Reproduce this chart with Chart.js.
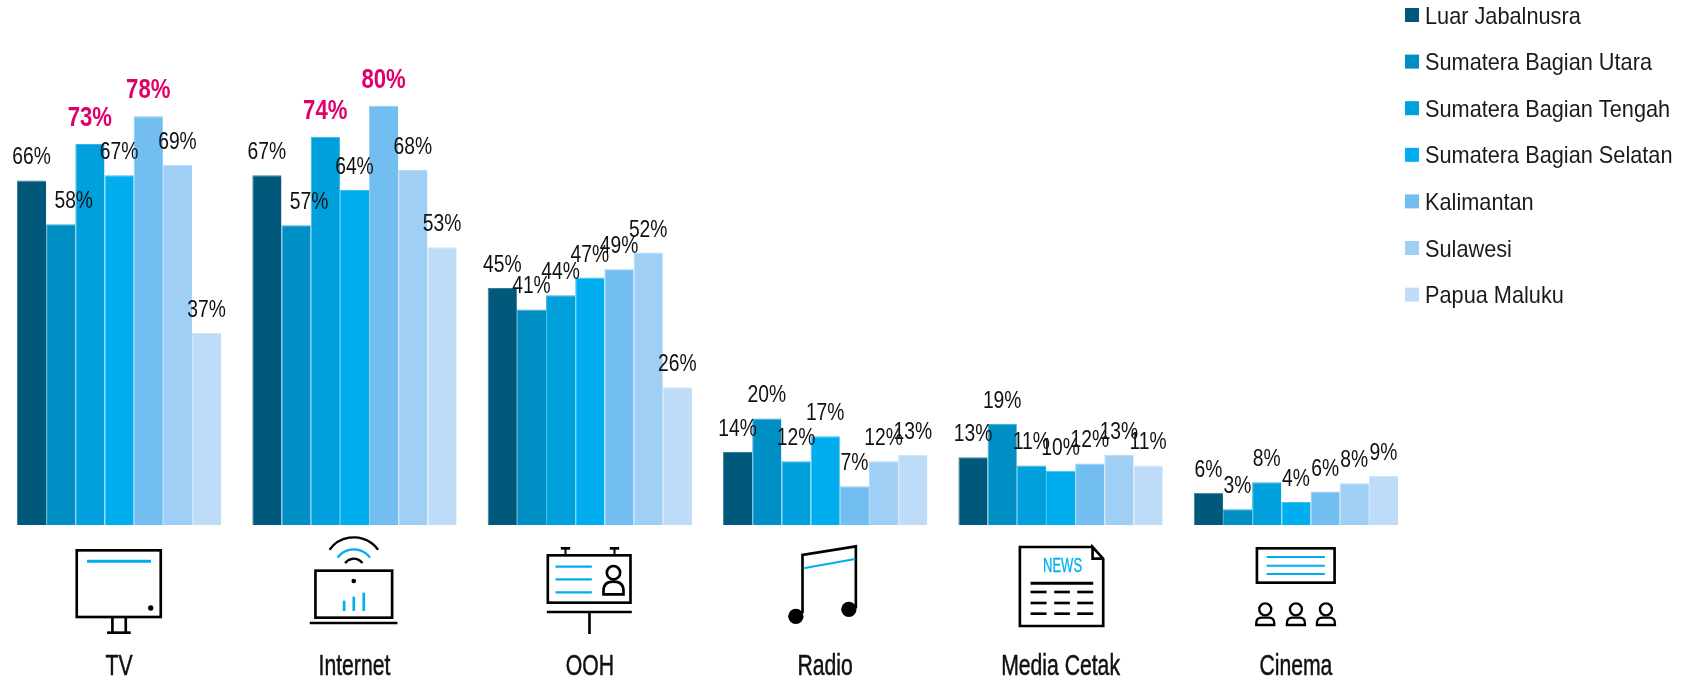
<!DOCTYPE html>
<html>
<head>
<meta charset="utf-8">
<title>Media reach</title>
<script src="https://cdn.jsdelivr.net/npm/chart.js@4"></script>
<style>
  html, body { margin: 0; padding: 0; background: #fff; }
  canvas { display: block; }
</style>
</head>
<body>
<canvas id="media" width="1690" height="681"></canvas>
<script>
var categories = ['TV', 'Internet', 'OOH', 'Radio', 'Media Cetak', 'Cinema'];

var luarJabalnusra = [66, 67, 45.4, 14, 13, 6.2];
var sumateraUtara = [57.6, 57.4, 41.3, 20.4, 19.4, 3];
var sumateraTengah = [73, 74.4, 44, 12.2, 11.4, 8.2];
var sumateraSelatan = [67, 64.2, 47.4, 17, 10.4, 4.4];
var kalimantan = [78.3, 80.3, 49, 7.4, 11.8, 6.4];
var sulawesi = [69, 68, 52.2, 12.2, 13.4, 8];
var papuaMaluku = [36.8, 53.2, 26.4, 13.4, 11.4, 9.4];

var regionNames = ['Luar Jabalnusra', 'Sumatera Bagian Utara', 'Sumatera Bagian Tengah',
  'Sumatera Bagian Selatan', 'Kalimantan', 'Sulawesi', 'Papua Maluku'];
var regionValues = [luarJabalnusra, sumateraUtara, sumateraTengah, sumateraSelatan,
  kalimantan, sulawesi, papuaMaluku];
var regionColors = ['#00587a', '#008fc5', '#00a0dc', '#00aeef', '#73bef0', '#a0cff5', '#bedcf7'];
var regionEdges = ['#3a7c96', '#3aa6d0', '#3ab4e3', '#3ac0f2', '#8fcbf3', '#b5d9f7', '#cde4f9'];

var FONT = '"Liberation Sans", Arial, sans-serif';
var BLUE = '#00aeef';

// the pink labels: series 2 and 4 in TV and Internet
function isHighlight(series, cat) {
  return cat < 2 && (series == 2 || series == 4);
}

// labels pushed sideways in the original so they clear the taller neighbour
function labelShift(series, cat) {
  return (series == 1 && cat < 2) ? 13 : 0;
}

// no condensed face is installed, so squeeze the text sideways
function squeezed(c, text, x, y, sx, outline) {
  c.save();
  c.translate(x, y);
  c.scale(sx, 1);
  if (outline) {
    c.lineWidth = outline;
    c.strokeStyle = c.fillStyle;
    c.strokeText(text, 0, 0);
  }
  c.fillText(text, 0, 0);
  c.restore();
}

var barLabels = {
  id: 'barLabels',
  afterDatasetsDraw: function(chart) {
    var c = chart.ctx;
    c.save();
    c.textAlign = 'center';
    c.textBaseline = 'middle';
    chart.data.datasets.forEach(function(ds, i) {
      chart.getDatasetMeta(i).data.forEach(function(bar, j) {
        var hot = isHighlight(i, j);
        c.font = (hot ? 'bold 27px ' : '23.5px ') + FONT;
        c.fillStyle = hot ? '#e0006c' : '#111';
        squeezed(c, Math.round(ds.data[j]) + '%', bar.x + labelShift(i, j), bar.y - (hot ? 25.5 : 22.5), 0.82);
      });
    });
    c.restore();
  }
};

var categoryLabels = {
  id: 'categoryLabels',
  afterDraw: function(chart) {
    var c = chart.ctx;
    var x = chart.scales.x;
    c.save();
    c.font = '29px ' + FONT;
    c.fillStyle = '#111';
    c.textAlign = 'center';
    c.textBaseline = 'middle';
    chart.data.labels.forEach(function(label, i) {
      squeezed(c, label, x.getPixelForTick(i), 667, 0.73, 0.5);
    });
    c.restore();
  }
};

var sideLegend = {
  id: 'sideLegend',
  afterDraw: function(chart) {
    var c = chart.ctx;
    c.save();
    c.font = '24px ' + FONT;
    c.textBaseline = 'middle';
    chart.data.datasets.forEach(function(ds, i) {
      var y = 15 + i * 46.6;
      c.fillStyle = ds.backgroundColor;
      c.fillRect(1405, y - 7, 14, 14);
      c.fillStyle = '#1a1a1a';
      squeezed(c, ds.label, 1425, y + 2, 0.905);
    });
    c.restore();
  }
};

function line(c, x1, y1, x2, y2, w, color) {
  c.strokeStyle = color || '#000';
  c.lineWidth = w;
  c.beginPath();
  c.moveTo(x1, y1);
  c.lineTo(x2, y2);
  c.stroke();
}

function box(c, x, y, w, h, lw) {
  c.strokeStyle = '#000';
  c.lineWidth = lw;
  c.strokeRect(x, y, w, h);
}

function dot(c, x, y, r) {
  c.fillStyle = '#000';
  c.beginPath();
  c.arc(x, y, r, 0, Math.PI * 2);
  c.fill();
}

function person(c, x, y, head, w, h, lw) {
  c.strokeStyle = '#000';
  c.lineWidth = lw;
  c.beginPath();
  c.arc(x, y, head, 0, Math.PI * 2);
  c.stroke();
  var top = y + head + 7, r = h * 0.75;
  c.beginPath();
  c.moveTo(x - w / 2, top + h);
  c.lineTo(x - w / 2, top + r);
  c.quadraticCurveTo(x - w / 2, top, x - w / 2 + r, top);
  c.lineTo(x + w / 2 - r, top);
  c.quadraticCurveTo(x + w / 2, top, x + w / 2, top + r);
  c.lineTo(x + w / 2, top + h);
  c.closePath();
  c.stroke();
}

// icons are drawn in a 600x450 box, 3 units to a pixel
var icons = [
  function tv(c) {
    box(c, 173, 61, 252, 200, 8);
    line(c, 204, 94, 396, 94, 9, BLUE);
    dot(c, 395, 234, 8);
    line(c, 280, 264, 280, 308, 8);
    line(c, 320, 264, 320, 308, 8);
    line(c, 264, 308, 335, 308, 8);
  },
  function internet(c) {
    c.strokeStyle = '#000';
    c.lineWidth = 7;
    c.beginPath(); c.arc(298, 112, 90, Math.PI * 1.2, Math.PI * 1.8); c.stroke();
    c.beginPath(); c.arc(298, 118, 32, Math.PI * 1.2, Math.PI * 1.8); c.stroke();
    c.strokeStyle = BLUE;
    c.beginPath(); c.arc(298, 118, 60, Math.PI * 1.2, Math.PI * 1.8); c.stroke();
    box(c, 183, 122, 230, 141, 8);
    dot(c, 298, 153, 7);
    line(c, 269, 212, 269, 243, 8, BLUE);
    line(c, 298, 200, 298, 243, 8, BLUE);
    line(c, 328, 188, 328, 243, 8, BLUE);
    line(c, 166, 279, 429, 279, 8);
  },
  function ooh(c) {
    box(c, 174, 76, 248, 142, 8);
    line(c, 227, 54, 227, 76, 6);
    line(c, 213, 55, 241, 55, 8);
    line(c, 374, 54, 374, 76, 6);
    line(c, 360, 55, 388, 55, 8);
    line(c, 197, 110, 306, 110, 7, BLUE);
    line(c, 197, 148, 306, 148, 7, BLUE);
    line(c, 197, 187, 306, 187, 7, BLUE);
    person(c, 371, 128, 20, 60, 38, 8);
    line(c, 171, 246, 426, 246, 8);
    line(c, 299, 246, 299, 312, 8);
  },
  function radio(c) {
    c.strokeStyle = '#000';
    c.lineWidth = 8;
    c.beginPath();
    c.moveTo(232, 250);
    c.lineTo(232, 75);
    c.lineTo(392, 49);
    c.lineTo(392, 235);
    c.stroke();
    line(c, 235, 115, 390, 87, 6, BLUE);
    dot(c, 212, 259, 23);
    dot(c, 371, 238, 23);
  },
  function news(c) {
    c.strokeStyle = '#000';
    c.lineWidth = 8;
    c.beginPath();
    c.moveTo(396, 51);
    c.lineTo(178, 51);
    c.lineTo(178, 288);
    c.lineTo(428, 288);
    c.lineTo(428, 86);
    c.lineTo(396, 51);
    c.lineTo(396, 86);
    c.lineTo(428, 86);
    c.stroke();
    c.fillStyle = BLUE;
    c.font = '62px ' + FONT;
    c.textAlign = 'center';
    c.textBaseline = 'middle';
    squeezed(c, 'NEWS', 306, 108, 0.63, 1);
    line(c, 210, 160, 398, 160, 9);
    [186, 219, 251].forEach(function(y) {
      line(c, 210, y, 258, y, 8);
      line(c, 281, y, 328, y, 8);
      line(c, 350, y, 398, y, 8);
    });
  },
  function cinema(c) {
    box(c, 183, 55, 233, 103, 8);
    line(c, 212, 81, 387, 81, 6, BLUE);
    line(c, 212, 107, 387, 107, 6, BLUE);
    line(c, 212, 132, 387, 132, 6, BLUE);
    [208, 300, 390].forEach(function(x) {
      person(c, x, 238, 18, 54, 22, 7);
    });
  }
];

var mediaIcons = {
  id: 'mediaIcons',
  afterDraw: function(chart) {
    var c = chart.ctx;
    var x = chart.scales.x;
    icons.forEach(function(draw, i) {
      c.save();
      c.translate(x.getPixelForTick(i) - 100, chart.chartArea.bottom + 5);
      c.scale(1 / 3, 1 / 3);
      draw(c);
      c.restore();
    });
  }
};

var datasets = regionNames.map(function(name, i) {
  return {
    label: name,
    data: regionValues[i],
    backgroundColor: regionColors[i],
    borderColor: regionEdges[i],
    borderWidth: { left: 1, right: 0, top: 1, bottom: 0 },
    borderSkipped: false
  };
});

var ctx = document.getElementById('media');
var chart = new Chart(ctx, {
  type: 'bar',
  data: { labels: categories, datasets: datasets },
  plugins: [barLabels, categoryLabels, sideLegend, mediaIcons],
  options: {
    responsive: false,
    animation: false,
    devicePixelRatio: 1,
    layout: { padding: { left: 1.4, right: 276.4, top: 3, bottom: 0 } },
    datasets: { bar: { categoryPercentage: 0.868, barPercentage: 1 } },
    plugins: { legend: { display: false }, tooltip: { enabled: false } },
    scales: {
      y: { display: false, min: 0, max: 100 },
      x: {
        afterFit: function(scale) {
          scale.height = 156;
          scale.paddingLeft = 0;
          scale.paddingRight = 0;
        },
        grid: { display: false, drawTicks: false },
        border: { display: false },
        ticks: { display: false }
      }
    }
  }
});
</script>
</body>
</html>
